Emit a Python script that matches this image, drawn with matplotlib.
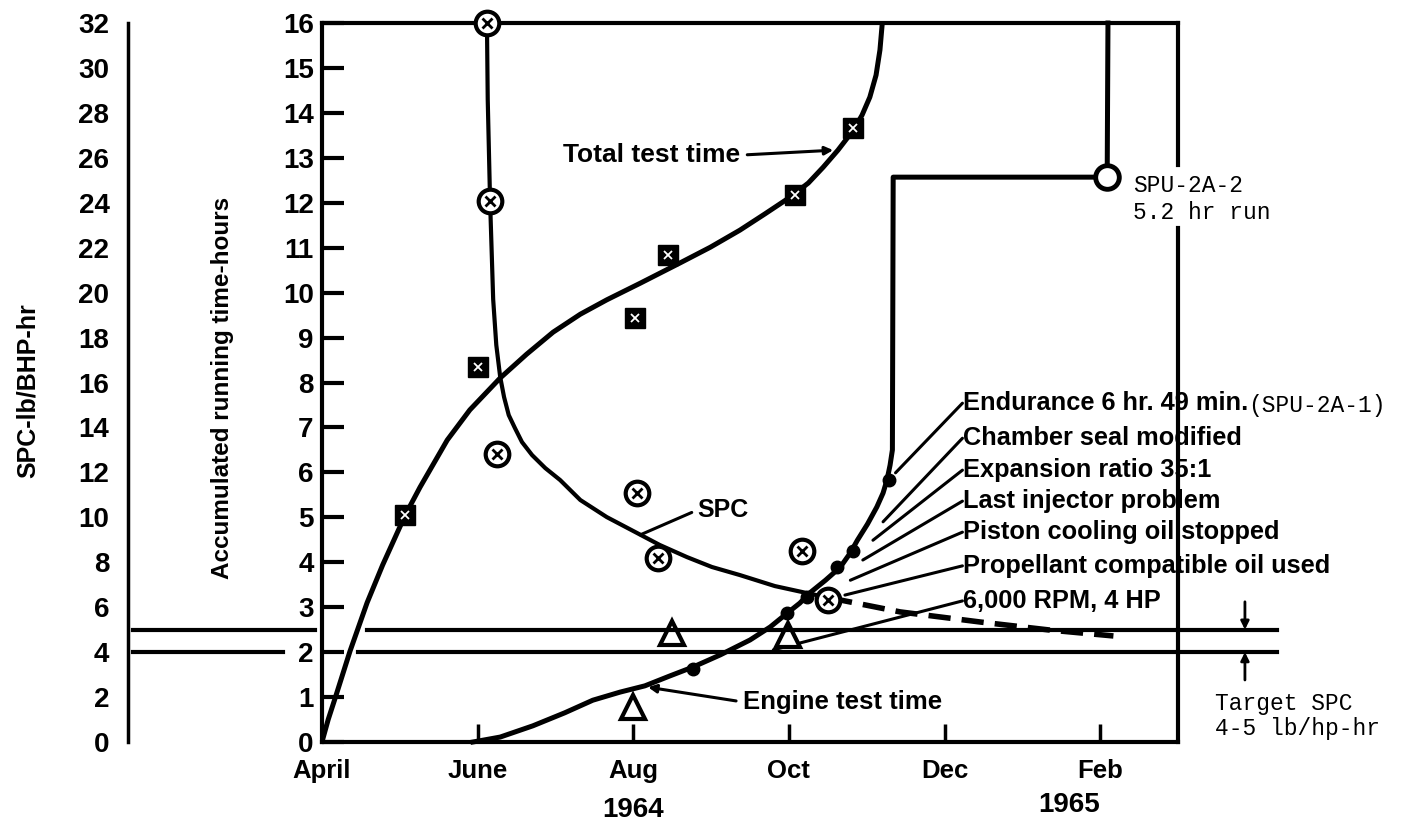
import matplotlib
matplotlib.use('Agg')
import matplotlib.pyplot as plt

plt.rcParams['font.family'] = ['Liberation Sans', 'DejaVu Sans']
plt.rcParams['font.weight'] = 'bold'

# x values are months after April 1964
month_pos = [0, 2, 4, 6, 8, 10]
month_labels = ['April', 'June', 'Aug', 'Oct', 'Dec', 'Feb']
year_labels = ['1964', '1965']
year_pos = [4.0, 9.6]

# total test time (hours)
total_curve_m = [0, 0.08, 0.17, 0.36, 0.58, 0.78, 1.07, 1.26, 1.61, 1.90, 2.29, 2.63,
                 2.97, 3.32, 3.66, 4.09, 4.60, 4.99, 5.37, 5.69, 6.02, 6.25, 6.44,
                 6.63, 6.83, 6.94, 7.04, 7.12, 7.17, 7.20]
total_curve_h = [0, 0.50, 0.98, 2.02, 3.10, 3.94, 5.05, 5.67, 6.72, 7.39, 8.10, 8.63,
                 9.12, 9.52, 9.84, 10.21, 10.66, 11.01, 11.39, 11.75, 12.13, 12.44, 12.79,
                 13.17, 13.62, 13.95, 14.35, 14.84, 15.40, 16.0]
total_pts_m = [1.07, 2.0, 4.02, 4.45, 6.08, 6.83]
total_pts_h = [5.05, 8.34, 9.43, 10.84, 12.17, 13.66]

# engine test time (hours)
engine_m = [1.94, 2.29, 2.71, 3.12, 3.48, 3.83, 4.15, 4.47, 4.77, 5.12, 5.50, 5.76,
            5.98, 6.14, 6.27, 6.47, 6.66, 6.79, 6.88, 7.01, 7.13, 7.21, 7.26, 7.30,
            7.33, 7.34, 10.09, 10.10]
engine_h = [0, 0.11, 0.36, 0.65, 0.93, 1.11, 1.25, 1.47, 1.67, 1.94, 2.27, 2.56,
            2.87, 3.09, 3.32, 3.60, 3.89, 4.21, 4.49, 4.85, 5.23, 5.54, 5.83, 6.16,
            6.50, 12.57, 12.57, 16.0]
engine_dots_m = [4.77, 5.98, 6.23, 6.62, 6.83, 7.28]
engine_dots_h = [1.62, 2.87, 3.23, 3.89, 4.25, 5.83]
engine_tri_m = [4.0, 4.5, 5.99]
engine_tri_h = [0.78, 2.43, 2.38]
spu2_m = [10.09]
spu2_h = [12.57]

# SPC (lb/BHP-hr)
spc_curve_m = [2.12, 2.13, 2.16, 2.20, 2.24, 2.29, 2.34, 2.40, 2.48, 2.57, 2.70, 2.87,
               3.06, 3.32, 3.66, 4.05, 4.34, 4.69, 5.01, 5.37, 5.82, 6.23, 6.53]
spc_curve_v = [31.95, 28.6, 24.1, 19.7, 17.67, 16.25, 15.35, 14.55, 13.97, 13.35, 12.77,
               12.19, 11.66, 10.77, 10.01, 9.3, 8.77, 8.23, 7.79, 7.43, 6.94, 6.63, 6.41]
spc_proj_m = [6.53, 7.43, 8.46, 9.36, 10.17]
spc_proj_v = [6.41, 5.79, 5.34, 4.98, 4.72]
spc_pts_m = [2.12, 2.16, 2.25, 4.05, 4.32, 6.17, 6.5]
spc_pts_v = [32.0, 24.1, 12.8, 11.1, 8.2, 8.5, 6.3]
target_spc = [4, 5]

fan_labels = ['Endurance 6 hr. 49 min.', 'Chamber seal modified', 'Expansion ratio 35:1',
              'Last injector problem', 'Piston cooling oil stopped',
              'Propellant compatible oil used', '6,000 RPM, 4 HP']
fan_from = [(7.37, 5.99), (7.21, 4.90), (7.08, 4.49), (6.95, 4.05), (6.79, 3.60),
            (6.72, 3.27), (5.80, 2.05)]
fan_text_h = [7.54, 6.76, 6.05, 5.36, 4.67, 3.92, 3.14]

fig = plt.figure(figsize=(14.14, 8.25), dpi=100)
ax = fig.add_axes([0.2277, 0.1006, 0.6054, 0.8715])
ax.set_xlim(0, 11)
ax.set_ylim(0, 16)

for s in ['left', 'top', 'bottom']:
    ax.spines[s].set_linewidth(3)
ax.spines['right'].set_visible(False)
# right border broken where the SPU-2A-2 note sits
ax.plot([1, 1], [1, 0.8025], transform=ax.transAxes, color='black', lw=3, clip_on=False)
ax.plot([1, 1], [0.715, 0], transform=ax.transAxes, color='black', lw=3, clip_on=False)

ax.set_yticks(range(17))
ax.tick_params(axis='y', direction='in', length=16, width=3, pad=6, labelsize=20)
ax.set_xticks(month_pos)
ax.set_xticklabels(month_labels)
ax.tick_params(axis='x', direction='in', length=13, width=2.5, pad=12, labelsize=18.5)

for yl, yp, yh in zip(year_labels, year_pos, [-1.51, -1.40]):
    ax.text(yp, yh, yl, ha='center', va='center', fontsize=20, clip_on=False)

# total test time
ax.plot(total_curve_m, total_curve_h, color='black', lw=3.6, zorder=3, solid_joinstyle='round')
ax.plot(total_pts_m, total_pts_h, ls='none', marker='s', ms=14, mfc='black', mec='black', zorder=4)
ax.plot(total_pts_m, total_pts_h, ls='none', marker='x', ms=6, mec='white', mew=1.3, zorder=5)

# engine test time
ax.plot(engine_m, engine_h, color='black', lw=3.6, zorder=3, clip_on=False, solid_joinstyle='round')
ax.plot(engine_dots_m, engine_dots_h, ls='none', marker='o', ms=9, color='black', zorder=4)
ax.plot(engine_tri_m, engine_tri_h, ls='none', marker='^', ms=17, mfc='white', mec='black',
        mew=3, zorder=5)
ax.plot(spu2_m, spu2_h, ls='none', marker='o', ms=17, mfc='white', mec='black', mew=3.5, zorder=5)

ax.text(10.42, 12.08, 'SPU-2A-2\n5.2 hr run', family='Liberation Mono', weight='normal',
        fontsize=16.5, ha='left', va='center', linespacing=1.2, clip_on=False)
ax.text(11.48, 0.58, 'Target SPC\n4-5 lb/hp-hr', family='Liberation Mono', weight='normal',
        fontsize=16.5, ha='left', va='center', linespacing=1.15, clip_on=False)

ax.annotate('Total test time', xy=(6.57, 13.17), xytext=(3.10, 13.06), ha='left', va='center',
            fontsize=19, arrowprops=dict(arrowstyle='-|>', lw=2.2, color='black', shrinkA=3,
                                         shrinkB=0, relpos=(1, 0.5), mutation_scale=12))
ax.annotate('Engine test time', xy=(4.19, 1.22), xytext=(5.41, 0.89), ha='left', va='center',
            fontsize=18.5, arrowprops=dict(arrowstyle='-|>', lw=2.2, color='black', shrinkA=3,
                                           shrinkB=0, relpos=(0, 0.5), mutation_scale=12))

fan_texts = []
for lab, (fm, fh), th in zip(fan_labels, fan_from, fan_text_h):
    t = ax.text(8.24, th, lab, ha='left', va='center', fontsize=18.3, clip_on=False)
    ax.annotate('', xy=(fm, fh), xytext=(8.23, th), annotation_clip=False,
                arrowprops=dict(arrowstyle='-', lw=2.2, color='black', shrinkA=0, shrinkB=0))
    fan_texts.append(t)
ax.annotate('(SPU-2A-1)', xy=(1.0, 0.42), xycoords=fan_texts[0], ha='left', va='center',
            family='Liberation Mono', weight='normal', fontsize=16.5, annotation_clip=False)

# target SPC bracket arrows
ax.annotate('', xy=(11.86, 2.5), xytext=(11.86, 3.12), annotation_clip=False,
            arrowprops=dict(arrowstyle='-|>', lw=2, color='black', mutation_scale=12, shrinkA=0, shrinkB=0))
ax.annotate('', xy=(11.86, 2.0), xytext=(11.86, 1.38), annotation_clip=False,
            arrowprops=dict(arrowstyle='-|>', lw=2, color='black', mutation_scale=12, shrinkA=0, shrinkB=0))

# SPC scale on its own left axis
ax2 = ax.twinx()
ax2.set_ylim(0, 32)
ax2.yaxis.tick_left()
for s in ['right', 'top', 'bottom']:
    ax2.spines[s].set_visible(False)
ax2.spines['left'].set_position(('outward', 140))
ax2.spines['left'].set_linewidth(2.5)
ax2.set_yticks(range(0, 33, 2))
ax2.tick_params(axis='y', length=0, pad=13, labelsize=20)

ax2.plot(spc_curve_m, spc_curve_v, color='black', lw=3, zorder=3, solid_joinstyle='round')
ax2.plot(spc_proj_m, spc_proj_v, color='black', lw=4, ls=(0, (4, 2)), zorder=3)
ax2.plot(spc_pts_m, spc_pts_v, ls='none', marker='o', ms=17, mfc='white', mec='black', mew=3,
         zorder=4, clip_on=False)
ax2.plot(spc_pts_m, spc_pts_v, ls='none', marker='x', ms=7, mec='black', mew=2, zorder=5,
         clip_on=False)

# target SPC lines, broken near the hours axis
upper_segments = [(-2.43, -0.09), (0.58, 12.27)]
lower_segments = [(-2.43, -0.50), (0.46, 12.27)]
for val, segs in zip(target_spc[::-1], [upper_segments, lower_segments]):
    for a, b in segs:
        ax2.plot([a, b], [val, val], color='black', lw=3, clip_on=False, zorder=2)

ax2.annotate('SPC', xy=(4.09, 9.22), xytext=(4.82, 10.32), ha='left', va='center', fontsize=18,
             arrowprops=dict(arrowstyle='-', lw=2.2, color='black', shrinkA=2, shrinkB=0,
                             relpos=(0, 0.5)))

fig.text(28 / 1414, 1 - 391 / 825, 'SPC-lb/BHP-hr', rotation=90, ha='center', va='center',
         fontsize=18)
fig.text(222 / 1414, 1 - 388 / 825, 'Accumulated running time-hours', rotation=90,
         ha='center', va='center', fontsize=17.5)

fig.savefig('out.png', dpi=100)
